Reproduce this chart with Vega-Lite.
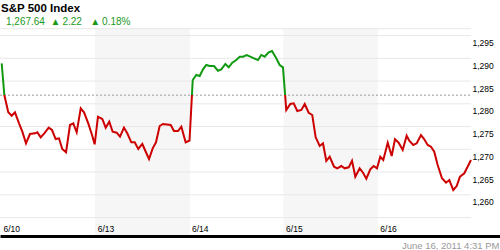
{
  "$schema": "https://vega.github.io/schema/vega-lite/v6.json",
  "width": 500,
  "height": 208,
  "autosize": {"type": "none"},
  "padding": {"top": 28, "left": 0, "right": 0, "bottom": 14},
  "background": "white",
  "config": {
    "view": {"stroke": null},
    "font": "Liberation Sans",
    "axisX": {
      "grid": false, "ticks": false, "tickSize": 0,
      "domain": true, "domainColor": "#000000", "domainWidth": 3,
      "labelAlign": "left", "labelBaseline": "alphabetic", "labelPadding": -5, "labelOffset": 3,
      "labelFont": "Liberation Sans", "labelFontSize": 8.5, "labelColor": "#000000",
      "labelFlush": false, "labelOverlap": false,
      "titleFont": "Liberation Sans", "titleFontSize": 9.5, "titleFontWeight": "normal",
      "titleColor": "#999999", "titleAlign": "right", "titleAnchor": "end",
      "titleBaseline": "alphabetic", "titleX": 499, "titleY": 12
    },
    "axisY": {
      "grid": false, "ticks": false, "tickSize": 0, "domain": false,
      "labelAlign": "left", "labelBaseline": "middle", "labelPadding": -28, "labelOffset": 7,
      "labelFont": "Liberation Sans", "labelFontSize": 8.5, "labelColor": "#000000",
      "labelFlush": false, "labelOverlap": false
    }
  },
  "title": {
    "text": "S&P 500 Index",
    "subtitle": "\u200b\u20021,267.64\u00a0\u00a0▲\u20092.22\u00a0\u00a0\u00a0▲\u20090.18%",
    "anchor": "start",
    "frame": "group",
    "font": "Liberation Sans",
    "fontSize": 11.5,
    "fontWeight": "bold",
    "color": "#000000",
    "subtitleFont": "Liberation Sans",
    "subtitleFontSize": 10,
    "subtitleColor": "#1a9a1a",
    "subtitlePadding": 3,
    "offset": 1,
    "dx": 1
  },
  "datasets": {
    "bands": [
      {"start": 1.008, "end": 2.017},
      {"start": 3.008, "end": 4.01}
    ],
    "grid": [
      {"v": 1255}, {"v": 1260}, {"v": 1265}, {"v": 1270}, {"v": 1275},
      {"v": 1280}, {"v": 1285}, {"v": 1290}, {"v": 1295}, {"v": 1296.5}
    ],
    "prev": [{"v": 1281.9}],
    "prices": [
      {"t": 0.018, "v": 1288.90}, {"t": 0.046, "v": 1281.93}, {"t": 0.088, "v": 1278.13},
      {"t": 0.124, "v": 1277.38}, {"t": 0.159, "v": 1278.13}, {"t": 0.202, "v": 1275.71},
      {"t": 0.237, "v": 1273.87}, {"t": 0.276, "v": 1271.32}, {"t": 0.318, "v": 1273.36},
      {"t": 0.372, "v": 1273.52}, {"t": 0.396, "v": 1273.74}, {"t": 0.432, "v": 1272.64},
      {"t": 0.470, "v": 1273.52}, {"t": 0.517, "v": 1274.75}, {"t": 0.552, "v": 1274.24},
      {"t": 0.591, "v": 1272.26}, {"t": 0.626, "v": 1272.42}, {"t": 0.661, "v": 1270.07},
      {"t": 0.701, "v": 1269.34}, {"t": 0.743, "v": 1275.34}, {"t": 0.778, "v": 1275.71},
      {"t": 0.814, "v": 1273.74}, {"t": 0.857, "v": 1279.01}, {"t": 0.892, "v": 1278.13},
      {"t": 0.937, "v": 1275.71}, {"t": 0.977, "v": 1273.14}, {"t": 1.005, "v": 1271.10},
      {"t": 1.040, "v": 1277.16}, {"t": 1.086, "v": 1276.66}, {"t": 1.122, "v": 1274.75},
      {"t": 1.160, "v": 1276.07}, {"t": 1.196, "v": 1273.87}, {"t": 1.239, "v": 1273.65},
      {"t": 1.274, "v": 1272.77}, {"t": 1.316, "v": 1274.75}, {"t": 1.351, "v": 1273.52},
      {"t": 1.394, "v": 1271.54}, {"t": 1.430, "v": 1271.54}, {"t": 1.468, "v": 1270.07},
      {"t": 1.511, "v": 1271.17}, {"t": 1.547, "v": 1269.47}, {"t": 1.582, "v": 1267.87},
      {"t": 1.621, "v": 1270.22}, {"t": 1.656, "v": 1271.54}, {"t": 1.695, "v": 1275.12},
      {"t": 1.730, "v": 1275.56}, {"t": 1.812, "v": 1275.34}, {"t": 1.847, "v": 1274.02},
      {"t": 1.890, "v": 1274.02}, {"t": 1.925, "v": 1274.97}, {"t": 1.971, "v": 1271.54},
      {"t": 2.012, "v": 1271.93}, {"t": 2.046, "v": 1285.23},
      {"t": 2.084, "v": 1286.33}, {"t": 2.120, "v": 1286.11}, {"t": 2.155, "v": 1287.58},
      {"t": 2.190, "v": 1288.53}, {"t": 2.226, "v": 1288.31}, {"t": 2.272, "v": 1288.31},
      {"t": 2.314, "v": 1287.27}, {"t": 2.349, "v": 1287.58}, {"t": 2.392, "v": 1288.75},
      {"t": 2.428, "v": 1288.02}, {"t": 2.466, "v": 1289.03}, {"t": 2.508, "v": 1289.63},
      {"t": 2.545, "v": 1290.35}, {"t": 2.580, "v": 1290.35}, {"t": 2.619, "v": 1290.73},
      {"t": 2.657, "v": 1290.35}, {"t": 2.696, "v": 1290.00}, {"t": 2.739, "v": 1289.63},
      {"t": 2.774, "v": 1290.73}, {"t": 2.810, "v": 1290.35}, {"t": 2.852, "v": 1291.32},
      {"t": 2.887, "v": 1291.60}, {"t": 2.933, "v": 1290.00}, {"t": 2.969, "v": 1288.53},
      {"t": 3.004, "v": 1288.02},
      {"t": 3.039, "v": 1278.64}, {"t": 3.082, "v": 1279.96}, {"t": 3.118, "v": 1280.11},
      {"t": 3.156, "v": 1278.42}, {"t": 3.199, "v": 1278.64}, {"t": 3.235, "v": 1279.96},
      {"t": 3.277, "v": 1278.04}, {"t": 3.315, "v": 1277.54}, {"t": 3.351, "v": 1272.64},
      {"t": 3.394, "v": 1270.73}, {"t": 3.429, "v": 1271.32}, {"t": 3.464, "v": 1267.43},
      {"t": 3.500, "v": 1268.37}, {"t": 3.546, "v": 1266.18}, {"t": 3.581, "v": 1265.82},
      {"t": 3.623, "v": 1266.33}, {"t": 3.659, "v": 1265.82}, {"t": 3.702, "v": 1266.04},
      {"t": 3.737, "v": 1267.49}, {"t": 3.772, "v": 1263.98}, {"t": 3.818, "v": 1265.82},
      {"t": 3.854, "v": 1264.86}, {"t": 3.889, "v": 1263.54}, {"t": 3.931, "v": 1265.60},
      {"t": 3.967, "v": 1266.33}, {"t": 4.002, "v": 1265.82},
      {"t": 4.037, "v": 1268.37}, {"t": 4.069, "v": 1267.65}, {"t": 4.116, "v": 1271.45},
      {"t": 4.158, "v": 1268.53}, {"t": 4.193, "v": 1272.20}, {"t": 4.232, "v": 1271.45},
      {"t": 4.275, "v": 1269.85}, {"t": 4.317, "v": 1272.99}, {"t": 4.345, "v": 1271.89},
      {"t": 4.387, "v": 1270.95}, {"t": 4.424, "v": 1271.32}, {"t": 4.469, "v": 1273.14},
      {"t": 4.504, "v": 1272.20}, {"t": 4.540, "v": 1270.95}, {"t": 4.575, "v": 1270.57},
      {"t": 4.610, "v": 1269.47}, {"t": 4.646, "v": 1266.55}, {"t": 4.692, "v": 1263.63},
      {"t": 4.735, "v": 1262.66}, {"t": 4.770, "v": 1263.25}, {"t": 4.812, "v": 1261.06},
      {"t": 4.848, "v": 1261.93}, {"t": 4.883, "v": 1263.98}, {"t": 4.929, "v": 1264.73},
      {"t": 5.000, "v": 1267.64}
    ]
  },
  "layer": [
    {
      "data": {"name": "bands"},
      "mark": {"type": "rect", "color": "#f6f6f6"},
      "encoding": {
        "x": {
          "field": "start", "type": "quantitative",
          "scale": {"domain": [0, 5.3079], "nice": false, "zero": false},
          "axis": {"values": [0, 1, 2, 3, 4], "labelExpr": "['6/10','6/13','6/14','6/15','6/16'][datum.value]", "title": "June 16, 2011 4:31 PM", "orient": "bottom", "zindex": 1, "labelOverlap": false}
        },
        "x2": {"field": "end"}
      }
    },
    {
      "data": {"name": "grid"},
      "mark": {"type": "rule", "color": "#e8e8e8", "strokeWidth": 1},
      "encoding": {
        "y": {
          "field": "v", "type": "quantitative",
          "scale": {"domain": [1250.95, 1296.66], "nice": false, "zero": false},
          "axis": {"values": [1260, 1265, 1270, 1275, 1280, 1285, 1290, 1295], "format": ",.0f", "title": null, "orient": "right", "zindex": 1}
        },
        "x": {
          "datum": 0, "type": "quantitative",
          "axis": {"values": [0, 1, 2, 3, 4], "labelExpr": "['6/10','6/13','6/14','6/15','6/16'][datum.value]", "title": "June 16, 2011 4:31 PM", "orient": "bottom", "zindex": 1, "labelOverlap": false}
        },
        "x2": {"datum": 5}
      }
    },
    {
      "data": {"name": "prev"},
      "mark": {"type": "rule", "color": "#999999", "strokeWidth": 1, "strokeDash": [2, 2]},
      "encoding": {
        "y": {
          "field": "v", "type": "quantitative",
          "axis": {"values": [1260, 1265, 1270, 1275, 1280, 1285, 1290, 1295], "format": ",.0f", "title": null, "orient": "right", "zindex": 1}
        },
        "x": {
          "datum": 0, "type": "quantitative",
          "axis": {"values": [0, 1, 2, 3, 4], "labelExpr": "['6/10','6/13','6/14','6/15','6/16'][datum.value]", "title": "June 16, 2011 4:31 PM", "orient": "bottom", "zindex": 1, "labelOverlap": false}
        },
        "x2": {"datum": 5}
      }
    },
    {
      "data": {"name": "prices"},
      "mark": {
        "type": "line",
        "strokeWidth": 2,
        "stroke": {
          "gradient": "linear",
          "x1": 0, "y1": 0, "x2": 0, "y2": 1,
          "stops": [
            {"offset": 0, "color": "#119911"},
            {"offset": 0.3176, "color": "#119911"},
            {"offset": 0.3176, "color": "#cc0000"},
            {"offset": 1, "color": "#cc0000"}
          ]
        }
      },
      "encoding": {
        "x": {
          "field": "t", "type": "quantitative",
          "axis": {"values": [0, 1, 2, 3, 4], "labelExpr": "['6/10','6/13','6/14','6/15','6/16'][datum.value]", "title": "June 16, 2011 4:31 PM", "orient": "bottom", "zindex": 1, "labelOverlap": false}
        },
        "y": {
          "field": "v", "type": "quantitative",
          "axis": {"values": [1260, 1265, 1270, 1275, 1280, 1285, 1290, 1295], "format": ",.0f", "title": null, "orient": "right", "zindex": 1}
        }
      }
    }
  ]
}
